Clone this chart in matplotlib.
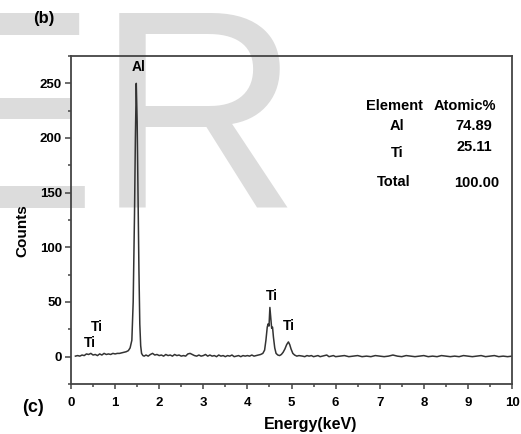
import matplotlib
matplotlib.use("Agg")
import matplotlib.pyplot as plt
from matplotlib.ticker import MultipleLocator

plt.rcParams['font.family'] = ['Liberation Sans', 'DejaVu Sans']

# EDS spectrum (energy in keV, counts)
energy = [0.10, 0.15, 0.20, 0.25, 0.30, 0.35, 0.40, 0.45, 0.50, 0.55, 0.60, 0.65,
          0.70, 0.75, 0.80, 0.85, 0.90, 0.95, 1.00, 1.05, 1.10, 1.15, 1.20, 1.25,
          1.30, 1.34, 1.38, 1.41, 1.44, 1.46, 1.48, 1.50, 1.52, 1.54, 1.56, 1.58,
          1.60, 1.63, 1.66, 1.70, 1.75, 1.80, 1.85, 1.90, 1.95, 2.00, 2.05, 2.10,
          2.15, 2.20, 2.25, 2.30, 2.35, 2.40, 2.45, 2.50, 2.55, 2.60, 2.65, 2.70,
          2.75, 2.80, 2.85, 2.90, 2.95, 3.00, 3.05, 3.10, 3.15, 3.20, 3.25, 3.30,
          3.35, 3.40, 3.45, 3.50, 3.55, 3.60, 3.65, 3.70, 3.75, 3.80, 3.85, 3.90,
          3.95, 4.00, 4.05, 4.10, 4.15, 4.20, 4.25, 4.30, 4.35, 4.39, 4.42, 4.45,
          4.47, 4.49, 4.51, 4.53, 4.55, 4.57, 4.59, 4.62, 4.65, 4.69, 4.73, 4.77,
          4.81, 4.85, 4.89, 4.93, 4.96, 4.99, 5.03, 5.07, 5.12, 5.17, 5.25, 5.30,
          5.35, 5.40, 5.45, 5.50, 5.55, 5.60, 5.65, 5.70, 5.75, 5.80, 5.85, 5.90,
          5.95, 6.00, 6.10, 6.20, 6.30, 6.40, 6.50, 6.60, 6.70, 6.80, 6.90, 7.00,
          7.10, 7.20, 7.30, 7.40, 7.50, 7.60, 7.70, 7.80, 7.90, 8.00, 8.10, 8.20,
          8.30, 8.40, 8.50, 8.60, 8.70, 8.80, 8.90, 9.00, 9.10, 9.20, 9.30, 9.40,
          9.50, 9.60, 9.70, 9.80, 9.90, 10.00]
counts = [0.5, 1.0, 0.5, 1.5, 1.0, 2.5, 2.0, 3.0, 1.5, 2.0, 1.0, 2.5,
          1.5, 3.0, 2.0, 2.5, 2.0, 3.0, 2.5, 3.0, 3.0, 3.5, 4.0, 4.5,
          5.5, 8.0, 15.0, 50.0, 130.0, 200.0, 250.0, 215.0, 150.0, 80.0, 30.0, 10.0,
          3.0, 1.0, 0.5, 1.5, 0.5, 2.0, 3.0, 1.5, 2.0, 1.0, 1.5, 0.5,
          2.0, 1.0, 1.5, 0.5, 2.0, 1.0, 1.5, 0.5, 1.0, 0.5, 2.5, 3.0,
          2.0, 1.0, 0.5, 1.5, 0.5, 1.0, 2.0, 0.5, 1.5, 0.5, 1.0, 0.0,
          1.5, 0.5, 1.0, 0.0, 1.0, 0.5, 1.5, 0.0, 0.5, 1.0, 0.0, 1.0,
          0.5, 1.0, 0.5, 1.5, 0.5, 1.0, 1.5, 2.0, 3.0, 6.0, 15.0, 27.0,
          30.0, 28.0, 45.0, 35.0, 26.0, 27.0, 18.0, 8.0, 3.0, 1.5, 1.0, 2.0,
          4.0, 7.0, 11.0, 13.5, 11.0, 7.0, 3.0, 1.5, 0.5, 1.0, 0.5, 0.0,
          1.0, 0.5, 1.0, 0.0, 0.5, 1.0, 0.0, 0.5, 1.0, 1.5, 0.0, 0.5,
          1.0, 0.0, 0.5, 1.0, 0.0, 0.5, 1.0, 0.0, 0.5, 0.0, 1.0, 0.5,
          0.0, 0.5, 1.5, 0.5, 0.0, 1.0, 0.5, 0.0, 0.5, 1.0, 0.0, 0.5,
          0.0, 1.0, 0.5, 0.0, 0.5, 0.0, 1.0, 0.5, 0.0, 0.5, 1.0, 0.0,
          0.5, 1.0, 0.0, 0.5, 0.0, 0.5]

# peak labels: (text, energy, counts)
peak_labels = [("Al", 1.53, 265), ("Ti", 4.56, 55.4), ("Ti", 4.94, 28.4),
               ("Ti", 0.59, 27.0), ("Ti", 0.43, 12.9)]

# composition table
elements = ["Al", "Ti", "Total"]
atomic_pct = ["74.89", "25.11", "100.00"]

W, H = 521, 434
fig = plt.figure(figsize=(W / 100, H / 100), dpi=100)

# light grey watermark behind everything
fig.text(-92 / W, 1 - 208 / H, "ER", fontsize=204, color='#dcdcdc',
         ha='left', va='baseline', zorder=-1)

ax = fig.add_axes([71 / W, 1 - 384 / H, 441 / W, 328 / H])
ax.patch.set_alpha(0)

ax.plot(energy, counts, color='#333333', lw=1.1)

ax.set_xlim(0, 10)
ax.set_ylim(-25, 275)
ax.xaxis.set_major_locator(MultipleLocator(1))
ax.xaxis.set_minor_locator(MultipleLocator(0.5))
ax.yaxis.set_major_locator(MultipleLocator(50))
ax.yaxis.set_minor_locator(MultipleLocator(25))

for s in ax.spines.values():
    s.set_color('#444444')
    s.set_linewidth(1.3)
ax.tick_params(which='both', direction='out', top=False, right=False,
               color='#444444', width=1.1, labelsize=9.5)
ax.tick_params(which='major', axis='y', length=4, pad=2.5)
ax.tick_params(which='minor', axis='y', length=2.5)
ax.tick_params(which='major', axis='x', length=3.5, pad=6)
ax.tick_params(which='minor', axis='x', length=2)
for lab in ax.get_xticklabels() + ax.get_yticklabels():
    lab.set_fontweight('bold')

fig.text(22 / W, 1 - 231 / H, "Counts", rotation=90, ha='center', va='center',
         fontsize=11, fontweight='bold')
fig.text(311 / W, 1 - 425 / H, "Energy(keV)", ha='center', va='center',
         fontsize=11.5, fontweight='bold')

for txt, xv, yv in peak_labels:
    ax.text(xv, yv, txt, ha='center', va='center', fontsize=10, fontweight='bold')

ax.text(7.34, 229.7, "Element", ha='center', va='center', fontsize=10.5, fontweight='bold')
ax.text(8.93, 229.7, "Atomic%", ha='center', va='center', fontsize=10.5, fontweight='bold')
el_y = [211, 186.3, 159.7]
pct_y = [211, 191.7, 158.8]
el_x = [7.39, 7.39, 7.32]
pct_x = [9.14, 9.14, 9.21]
for e, p, ex, ey, px, py in zip(elements, atomic_pct, el_x, el_y, pct_x, pct_y):
    ax.text(ex, ey, e, ha='center', va='center', fontsize=10.5, fontweight='bold')
    ax.text(px, py, p, ha='center', va='center', fontsize=10.5, fontweight='bold')

fig.text(44 / W, 1 - 18 / H, "(b)", ha='center', va='center', fontsize=12, fontweight='bold')
fig.text(33 / W, 1 - 407 / H, "(c)", ha='center', va='center', fontsize=13, fontweight='bold')

fig.savefig("out.png", dpi=100)
